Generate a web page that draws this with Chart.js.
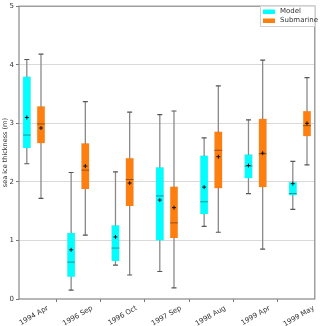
<!DOCTYPE html>
<html>
<head>
<meta charset="utf-8">
<script src="https://cdn.jsdelivr.net/npm/chart.js@4.4.0/dist/chart.umd.min.js"></script>
<style>
  body { margin: 0; background: #fff; }
</style>
</head>
<body>
<canvas id="iceChart" width="320" height="326"></canvas>
<script>
// Sea ice thickness: model vs submarine box stats per cruise

const cruises = ['1994 Apr', '1996 Sep', '1996 Oct', '1997 Sep', '1998 Aug', '1999 Apr', '1999 May'];
const yTicks = [0, 1, 2, 3, 4, 5];

// Model (cyan)
const modelLow  = [2.31, 0.15, 0.58, 0.47, 1.24, 1.80, 1.53];
const modelQ1   = [2.58, 0.38, 0.65, 1.00, 1.45, 2.06, 1.77];
const modelMed  = [2.80, 0.63, 0.87, 1.76, 1.66, 2.27, 1.80];
const modelQ3   = [3.80, 1.13, 1.26, 2.25, 2.45, 2.47, 2.00];
const modelHigh = [4.09, 2.16, 2.17, 3.15, 2.75, 3.06, 2.35];
const modelMean = [3.10, 0.84, 1.06, 1.69, 1.91, 2.28, 1.97];

// Submarine (orange)
const subLow  = [1.72, 1.09, 0.41, 0.19, 1.14, 0.85, 2.29];
const subQ1   = [2.66, 1.88, 1.59, 1.04, 1.89, 1.91, 2.78];
const subMed  = [2.99, 2.20, 2.04, 1.30, 2.54, 2.48, 2.96];
const subQ3   = [3.29, 2.66, 2.41, 1.92, 2.86, 3.08, 3.21];
const subHigh = [4.18, 3.37, 3.19, 3.21, 3.64, 4.08, 3.78];
const subMean = [2.92, 2.27, 1.98, 1.56, 2.43, 2.49, 3.00];

const modelColor = '#00ffff';
const subColor = '#ff7f0e';

Chart.defaults.font.family = 'DejaVu Sans';
Chart.defaults.font.size = 7;
Chart.defaults.color = '#333';

// model box left of the tick, submarine right of it
function boxX(i, side) { return i + 1 + side * 0.16; }

function boxes(q1, q3, side) {
    return q1.map((v, i) => ({ x: boxX(i, side), y: [v, q3[i]] }));
}
function whiskers(low, high, side) {
    const pts = [];
    low.forEach((v, i) => {
        pts.push({ x: boxX(i, side), y: v }, { x: boxX(i, side), y: high[i] }, { x: boxX(i, side), y: null });
    });
    return pts;
}
function marks(vals, side) {
    return vals.map((v, i) => ({ x: boxX(i, side), y: v }));
}

function markSet(data, style, radius, color, width, order) {
    return {
        type: 'scatter', data: data, showLine: false,
        pointStyle: style, pointRadius: radius, pointBorderColor: color,
        pointBackgroundColor: color, pointBorderWidth: width, order: order
    };
}
function whiskerSet(data) {
    return {
        type: 'line', data: data, spanGaps: false, borderColor: '#8a8a8a',
        borderWidth: 1.3, pointRadius: 0, order: 6
    };
}

// frame round the plot
const framePlugin = {
    id: 'frame',
    afterDraw(chart) {
        const { ctx, chartArea: a } = chart;
        ctx.save();
        ctx.strokeStyle = '#888';
        ctx.lineWidth = 1.2;
        ctx.strokeRect(a.left, a.top, a.right - a.left, a.bottom - a.top);
        ctx.restore();
    }
};

// legend box top right, inside the plot
const legendPlugin = {
    id: 'boxLegend',
    afterDraw(chart) {
        const ctx = chart.ctx;
        const items = chart.data.datasets.filter(d => d.type === 'bar');
        const x = 260.5, y = 6, w = 54.5, h = 20.5;
        ctx.save();
        ctx.fillStyle = 'rgba(255,255,255,0.85)';
        ctx.strokeStyle = '#d0d0d0';
        ctx.lineWidth = 1;
        ctx.fillRect(x, y, w, h);
        ctx.strokeRect(x, y, w, h);
        ctx.font = '7px "DejaVu Sans"';
        ctx.textBaseline = 'middle';
        items.forEach((d, i) => {
            const rowY = y + 5.5 + i * 9;
            ctx.fillStyle = d.backgroundColor;
            ctx.fillRect(x + 2.5, rowY - 2, 12, 4.5);
            ctx.fillStyle = '#333';
            ctx.fillText(d.label, x + 19.5, rowY);
        });
        ctx.restore();
    }
};

new Chart(document.getElementById('iceChart'), {
    type: 'bar',
    data: {
        datasets: [
            { type: 'bar', label: 'Model', data: boxes(modelQ1, modelQ3, -1), backgroundColor: modelColor,
              borderColor: 'rgba(0,0,0,0.12)', borderWidth: 0.6, barThickness: 8, grouped: false, order: 3 },
            { type: 'bar', label: 'Submarine', data: boxes(subQ1, subQ3, 1), backgroundColor: subColor,
              borderColor: 'rgba(0,0,0,0.12)', borderWidth: 0.6, barThickness: 8, grouped: false, order: 3 },
            whiskerSet(whiskers(modelLow, modelHigh, -1)),
            whiskerSet(whiskers(subLow, subHigh, 1)),
            markSet(marks(modelLow, -1).concat(marks(modelHigh, -1)), 'line', 2.5, '#555', 1.2, 5),
            markSet(marks(subLow, 1).concat(marks(subHigh, 1)), 'line', 2.5, '#555', 1.2, 5),
            markSet(marks(modelMed, -1), 'line', 4, 'rgba(50,70,70,0.55)', 1, 2),
            markSet(marks(subMed, 1), 'line', 4, 'rgba(70,40,20,0.55)', 1, 2),
            markSet(marks(modelMean, -1), 'cross', 2, '#111', 1, 1),
            markSet(marks(subMean, 1), 'cross', 2, '#111', 1, 1)
        ]
    },
    options: {
        responsive: false,
        animation: false,
        events: [],
        layout: { padding: { top: 4, right: 3, left: 0, bottom: 0 } },
        plugins: { legend: { display: false }, tooltip: { enabled: false } },
        scales: {
            x: {
                type: 'linear',
                offset: false,
                min: 0.664,
                max: 7.336,
                afterBuildTicks: (s) => { s.ticks = cruises.map((c, i) => ({ value: i + 1 })); },
                afterFit: (s) => { s.height = 27; },
                border: { display: false },
                grid: { drawOnChartArea: false, drawTicks: true, tickLength: 3, tickColor: '#777' },
                ticks: {
                    autoSkip: false, minRotation: 30, maxRotation: 30, labelOffset: 14, padding: 2,
                    callback: (v) => cruises[v - 1]
                }
            },
            y: {
                min: 0,
                max: 5,
                afterBuildTicks: (s) => { s.ticks = yTicks.map(v => ({ value: v })); },
                afterFit: (s) => { s.width = 19; },
                border: { display: false },
                grid: {
                    color: (c) => (c.tick.value === 0 || c.tick.value === 5) ? 'rgba(0,0,0,0)' : '#cfcfcf',
                    borderDash: [2, 2],
                    lineWidth: 0.8,
                    tickLength: 3,
                    tickColor: '#777',
                    tickWidth: 1
                },
                ticks: { padding: 2 },
                title: {
                    display: true, text: 'sea ice thickness (m)', color: '#333',
                    font: { size: 6.5 }, padding: { top: 1.5, bottom: 0 }
                }
            }
        }
    },
    plugins: [framePlugin, legendPlugin]
});
</script>
</body>
</html>
